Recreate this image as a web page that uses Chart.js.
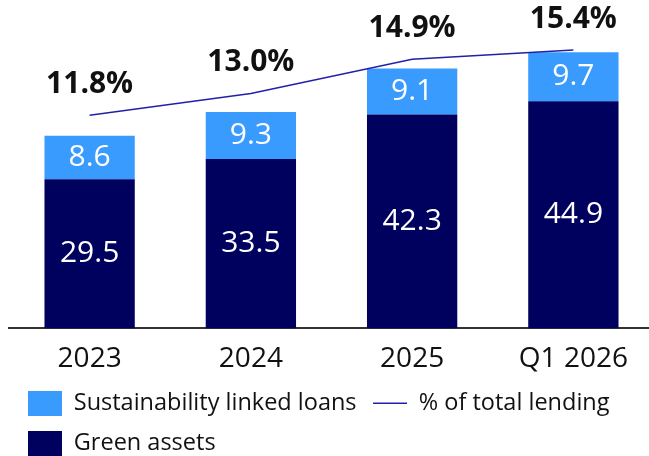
<!DOCTYPE html>
<html><head><meta charset="utf-8">
<script src="https://cdn.jsdelivr.net/npm/chart.js@4.4.1/dist/chart.umd.min.js"></script>
<style>
html,body{margin:0;padding:0;overflow:hidden;background:#fff}
#wrap{position:relative;width:655px;height:480px}
</style>
</head><body>
<div id="wrap"><canvas id="c"></canvas></div>
<script>
const categories = ['2023', '2024', '2025', 'Q1 2026'];
const greenAssets = [29.5, 33.5, 42.3, 44.9];
const sustainabilityLinkedLoans = [8.6, 9.3, 9.1, 9.7];
const shareOfTotalLending = [11.8, 13.0, 14.9, 15.4];
const seriesNames = ['Green assets', 'Sustainability linked loans', '% of total lending'];

const FONT = "'Open Sans', sans-serif";
const LIGHT = '#3a9bff';
const DARK = '#00005f';
const LINE = '#2020aa';
const TEXT = '#111111';

function swatch(color) {
  const c = document.createElement('canvas');
  c.width = 34; c.height = 25;
  const g = c.getContext('2d');
  g.fillStyle = color; g.fillRect(0, 0, 34, 25);
  return c;
}
const swatches = { 0: swatch(DARK), 1: swatch(LIGHT) };

const labelPlugin = {
  id: 'valueLabels',
  afterDatasetsDraw(chart) {
    const ctx = chart.ctx;
    ctx.save();
    ctx.textAlign = 'center';
    ctx.textBaseline = 'middle';
    [0, 1].forEach(i => {
      const meta = chart.getDatasetMeta(i);
      meta.data.forEach((el, j) => {
        ctx.fillStyle = '#ffffff';
        ctx.font = "30px " + FONT;
        ctx.fillText(chart.data.datasets[i].data[j].toFixed(1), el.x, (el.y + el.base) / 2);
      });
    });
    const lm = chart.getDatasetMeta(2);
    lm.data.forEach((pt, j) => {
      ctx.fillStyle = TEXT;
      ctx.font = "bold 30px " + FONT;
      ctx.fillText(shareOfTotalLending[j].toFixed(1) + '%', pt.x, pt.y - 31);
    });
    ctx.restore();
  }
};

const legendShift = {
  id: 'legendShift',
  afterLayout(chart) {
    const lg = chart.legend;
    if (!lg) return;
    lg.left += 2.5; lg.right += 2.5;
    lg.top -= 15; lg.bottom -= 15;
  }
};

new Chart(document.getElementById('c'), {
  data: {
    labels: categories,
    datasets: [
      { type: 'bar', label: seriesNames[0], data: greenAssets, backgroundColor: DARK, yAxisID: 'y', barPercentage: 0.56, categoryPercentage: 1, order: 1 },
      { type: 'bar', label: seriesNames[1], data: sustainabilityLinkedLoans, backgroundColor: LIGHT, yAxisID: 'y', barPercentage: 0.56, categoryPercentage: 1, order: 1 },
      { type: 'line', label: seriesNames[2], data: shareOfTotalLending, borderColor: LINE, backgroundColor: LINE, borderWidth: 1.5, pointRadius: 0, tension: 0, yAxisID: 'y2', order: 0, clip: false }
    ]
  },
  options: {
    responsive: true,
    maintainAspectRatio: false,
    animation: false,
    layout: { padding: { left: 9, right: 1, top: 25, bottom: 0 } },
    scales: {
      x: {
        stacked: true,
        grid: { display: false, drawTicks: false },
        border: { display: true, color: '#333333', width: 2 },
        ticks: { color: TEXT, font: { family: FONT, size: 28 }, padding: 14 }
      },
      y: { stacked: true, display: false, min: 0, max: 60 },
      y2: { display: false, min: 0, max: 16.79 }
    },
    plugins: {
      tooltip: { enabled: false },
      legend: {
        position: 'bottom',
        align: 'start',
        labels: {
          usePointStyle: true,
          pointStyleWidth: 34,
          padding: 16.5,
          color: TEXT,
          font: { family: FONT, size: 23.5 },
          generateLabels(chart) {
            return [1, 2, 0].map(i => {
              const ds = chart.data.datasets[i];
              return {
                text: ds.label,
                datasetIndex: i,
                fillStyle: i === 2 ? LINE : ds.backgroundColor,
                strokeStyle: LINE,
                lineWidth: i === 2 ? 1.5 : 0,
                pointStyle: i === 2 ? 'line' : swatches[i],
                fontColor: TEXT,
                hidden: false
              };
            });
          }
        }
      }
    }
  },
  plugins: [labelPlugin, legendShift]
});
</script>
</body></html>
